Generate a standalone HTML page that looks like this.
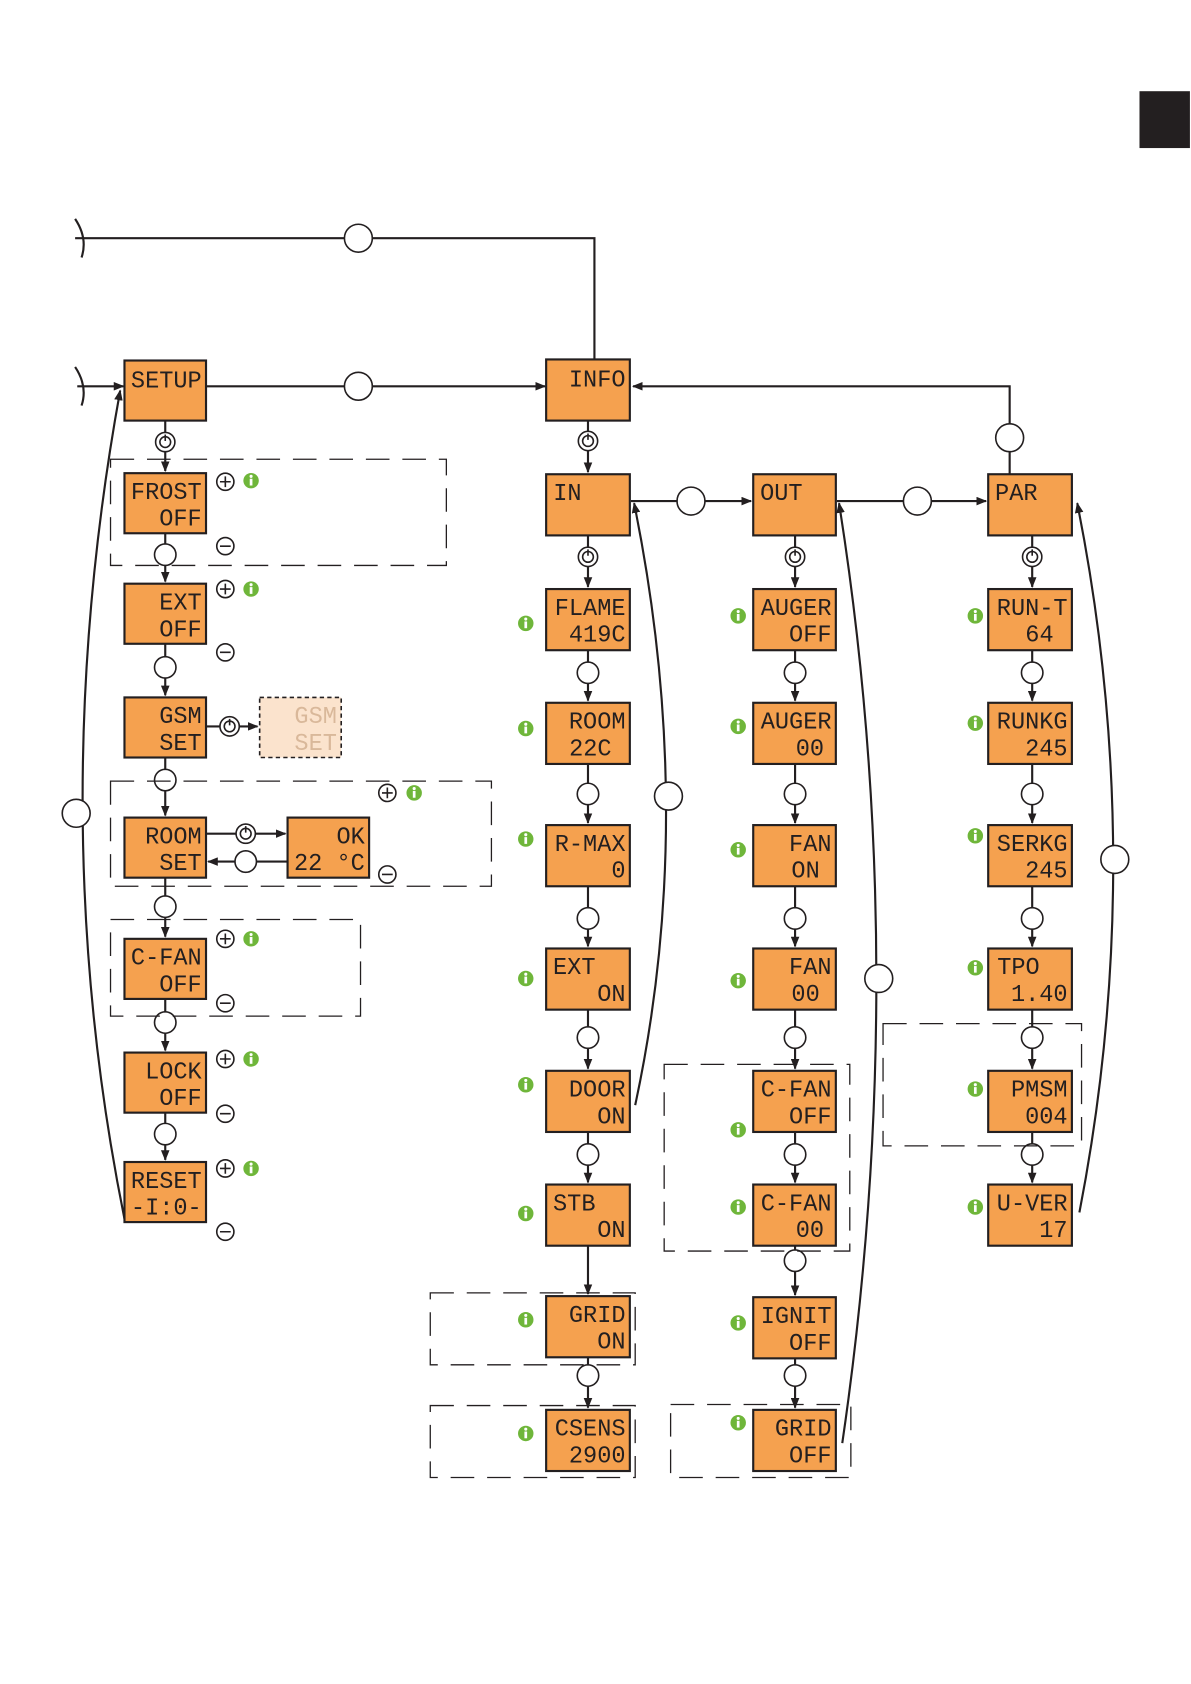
<!DOCTYPE html>
<html><head><meta charset="utf-8"><style>
html,body{margin:0;padding:0;background:#fff}
svg{display:block}
.b{fill:#f5a14f;stroke:#231f20;stroke-width:2}
.t{font-family:"Liberation Mono",monospace;font-size:22px;fill:#231f20;text-anchor:end}
.l{stroke:#231f20;stroke-width:2;fill:none}
.c{fill:#fff;stroke:#231f20;stroke-width:1.5}
.d{fill:none;stroke:#231f20;stroke-width:1.2;stroke-dasharray:22 12}
.i{fill:#6fb63a}
.it{font-family:"Liberation Sans",sans-serif;font-size:11px;font-weight:bold;fill:#fff;text-anchor:middle}
.p{fill:#fff;stroke:#231f20;stroke-width:1.5}
</style></head><body>
<svg width="1191" height="1684" viewBox="0 0 1110 1569.5" xmlns="http://www.w3.org/2000/svg">
<defs><marker id="a" markerWidth="10" markerHeight="8" refX="9" refY="4" orient="auto" markerUnits="userSpaceOnUse"><path d="M0,0L10,4L0,8z" fill="#231f20"/></marker>
<symbol id="pw" viewBox="0 0 20 20"><circle cx="10" cy="10" r="9" fill="#fff" stroke="#231f20" stroke-width="1.5"/><circle cx="10" cy="10" r="5" fill="none" stroke="#231f20" stroke-width="1.5"/><line x1="10" y1="3" x2="10" y2="9" stroke="#231f20" stroke-width="1.5"/></symbol>
<symbol id="pl" viewBox="0 0 20 20"><circle cx="10" cy="10" r="8" fill="#fff" stroke="#231f20" stroke-width="1.5"/><path d="M5,10H15M10,5V15" stroke="#231f20" stroke-width="1.5"/></symbol>
<symbol id="mi" viewBox="0 0 20 20"><circle cx="10" cy="10" r="8" fill="#fff" stroke="#231f20" stroke-width="1.5"/><path d="M5,10H15" stroke="#231f20" stroke-width="1.5"/></symbol>
<symbol id="in" viewBox="0 0 20 20"><circle cx="10" cy="10" r="8" fill="#6fb63a"/><rect x="8.6" y="8" width="2.8" height="7" fill="#fff"/><circle cx="10" cy="5.5" r="1.6" fill="#fff"/></symbol>
</defs>
<rect x="1062" y="85" width="47" height="53" fill="#231f20"/>

<!-- main lines -->
<path class="l" d="M70,222H554V335"/>
<path class="l" d="M70,204Q82,222 76,240" />
<path class="l" d="M70,342Q82,360 76,378" />
<path class="l" d="M72,360H115" marker-end="url(#a)"/>
<path class="l" d="M192,360H508" marker-end="url(#a)"/>
<path class="l" d="M941,442V360H590" marker-end="url(#a)"/>
<path class="l" d="M588,467H700" marker-end="url(#a)"/>
<path class="l" d="M780,467H919" marker-end="url(#a)"/>
<circle class="c" cx="334" cy="222" r="13"/><circle class="c" cx="334" cy="360" r="13"/>
<circle class="c" cx="941" cy="408" r="13"/><circle class="c" cx="644" cy="467" r="13"/><circle class="c" cx="855" cy="467" r="13"/>

<!-- return curves -->
<path class="l" d="M116,1136Q40,760 112,364" marker-end="url(#a)"/>
<circle class="c" cx="71" cy="758" r="13"/>
<path class="l" d="M592,1030Q650,760 591,469" marker-end="url(#a)"/>
<circle class="c" cx="623" cy="742" r="13"/>
<path class="l" d="M785,1345Q850,900 782,469" marker-end="url(#a)"/>
<circle class="c" cx="819" cy="912" r="13"/>
<path class="l" d="M1006,1130Q1070,800 1004,469" marker-end="url(#a)"/>
<circle class="c" cx="1039" cy="801" r="13"/>

<!-- vertical connectors -->
<g class="l">
<path d="M154,392V439" marker-end="url(#a)"/><path d="M154,497V542" marker-end="url(#a)"/><path d="M154,600V648" marker-end="url(#a)"/>
<path d="M154,706V760" marker-end="url(#a)"/><path d="M154,818V873" marker-end="url(#a)"/><path d="M154,931V979" marker-end="url(#a)"/><path d="M154,1037V1081" marker-end="url(#a)"/>
<path d="M548,392V440" marker-end="url(#a)"/>
<path d="M548,499V547" marker-end="url(#a)"/><path d="M548,606V653" marker-end="url(#a)"/><path d="M548,712V767" marker-end="url(#a)"/><path d="M548,826V882" marker-end="url(#a)"/><path d="M548,941V996" marker-end="url(#a)"/><path d="M548,1055V1102" marker-end="url(#a)"/><path d="M548,1161V1206" marker-end="url(#a)"/><path d="M548,1265V1312" marker-end="url(#a)"/>
<path d="M741,499V547" marker-end="url(#a)"/><path d="M741,606V653" marker-end="url(#a)"/><path d="M741,712V767" marker-end="url(#a)"/><path d="M741,826V882" marker-end="url(#a)"/><path d="M741,941V996" marker-end="url(#a)"/><path d="M741,1055V1102" marker-end="url(#a)"/><path d="M741,1161V1207" marker-end="url(#a)"/><path d="M741,1266V1312" marker-end="url(#a)"/>
<path d="M962,499V547" marker-end="url(#a)"/><path d="M962,606V653" marker-end="url(#a)"/><path d="M962,712V767" marker-end="url(#a)"/><path d="M962,826V882" marker-end="url(#a)"/><path d="M962,941V996" marker-end="url(#a)"/><path d="M962,1055V1102" marker-end="url(#a)"/>
<path d="M192,677H240" marker-end="url(#a)"/>
<path d="M192,777H266" marker-end="url(#a)"/><path d="M268,803H194" marker-end="url(#a)"/>
</g>
<g class="c">
<circle cx="154" cy="517" r="10"/><circle cx="154" cy="622" r="10"/><circle cx="154" cy="727" r="10"/><circle cx="154" cy="845" r="10"/><circle cx="154" cy="953" r="10"/><circle cx="154" cy="1057" r="10"/>
<circle cx="548" cy="627" r="10"/><circle cx="548" cy="740" r="10"/><circle cx="548" cy="856" r="10"/><circle cx="548" cy="967" r="10"/><circle cx="548" cy="1076" r="10"/><circle cx="548" cy="1282" r="10"/>
<circle cx="741" cy="627" r="10"/><circle cx="741" cy="740" r="10"/><circle cx="741" cy="856" r="10"/><circle cx="741" cy="967" r="10"/><circle cx="741" cy="1076" r="10"/><circle cx="741" cy="1175" r="10"/><circle cx="741" cy="1282" r="10"/>
<circle cx="962" cy="627" r="10"/><circle cx="962" cy="740" r="10"/><circle cx="962" cy="856" r="10"/><circle cx="962" cy="967" r="10"/><circle cx="962" cy="1076" r="10"/>
<circle cx="229" cy="803" r="10"/>
</g>
<use href="#pw" x="144" y="402" width="20" height="20"/><use href="#pw" x="538" y="401" width="20" height="20"/>
<use href="#pw" x="538" y="509" width="20" height="20"/><use href="#pw" x="731" y="509" width="20" height="20"/><use href="#pw" x="952" y="509" width="20" height="20"/>
<use href="#pw" x="204" y="667" width="20" height="20"/><use href="#pw" x="219" y="767" width="20" height="20"/>

<!-- dashed groups -->
<g class="d">
<rect x="103" y="428" width="313" height="99"/><rect x="103" y="728" width="355" height="98"/><rect x="103" y="857" width="233" height="90"/>
<rect x="401" y="1205" width="191" height="67"/><rect x="401" y="1310" width="191" height="67"/>
<rect x="619" y="992" width="173" height="174"/><rect x="625" y="1309" width="168" height="68"/><rect x="823" y="954" width="185" height="114"/>
</g>

<!-- boxes -->
<g>
<rect class="b" x="116" y="336" width="76" height="56"/><text class="t" x="188" y="361">SETUP</text>
<rect class="b" x="116" y="441" width="76" height="56"/><text class="t" x="188" y="465">FROST</text><text class="t" x="188" y="490">OFF</text>
<rect class="b" x="116" y="544" width="76" height="56"/><text class="t" x="188" y="568">EXT</text><text class="t" x="188" y="593">OFF</text>
<rect class="b" x="116" y="650" width="76" height="56"/><text class="t" x="188" y="674">GSM</text><text class="t" x="188" y="699">SET</text>
<rect x="242" y="650" width="76" height="56" fill="#fbe3cd" stroke="#231f20" stroke-width="1.5" stroke-dasharray="4 3"/><text class="t" x="314" y="674" style="fill:#d9b89a">GSM</text><text class="t" x="314" y="699" style="fill:#d9b89a">SET</text>
<rect class="b" x="116" y="762" width="76" height="56"/><text class="t" x="188" y="786">ROOM</text><text class="t" x="188" y="811">SET</text>
<rect class="b" x="268" y="762" width="76" height="56"/><text class="t" x="340" y="786">OK</text><text class="t" x="340" y="811">22 °C</text>
<rect class="b" x="116" y="875" width="76" height="56"/><text class="t" x="188" y="899">C-FAN</text><text class="t" x="188" y="924">OFF</text>
<rect class="b" x="116" y="981" width="76" height="56"/><text class="t" x="188" y="1005">LOCK</text><text class="t" x="188" y="1030">OFF</text>
<rect class="b" x="116" y="1083" width="76" height="56"/><text class="t" x="188" y="1107">RESET</text><text class="t" x="188" y="1132">-I:0-</text>

<rect class="b" x="509" y="335" width="78" height="57"/><text class="t" x="583" y="360">INFO</text>
<rect class="b" x="509" y="442" width="78" height="57"/><text class="t" x="542" y="466">IN</text>
<rect class="b" x="509" y="549" width="78" height="57"/><text class="t" x="583" y="573">FLAME</text><text class="t" x="583" y="598">419C</text>
<rect class="b" x="509" y="655" width="78" height="57"/><text class="t" x="583" y="679">ROOM</text><text class="t" x="570" y="704">22C</text>
<rect class="b" x="509" y="769" width="78" height="57"/><text class="t" x="583" y="793">R-MAX</text><text class="t" x="583" y="818">0</text>
<rect class="b" x="509" y="884" width="78" height="57"/><text class="t" x="555" y="908">EXT</text><text class="t" x="583" y="933">ON</text>
<rect class="b" x="509" y="998" width="78" height="57"/><text class="t" x="583" y="1022">DOOR</text><text class="t" x="583" y="1047">ON</text>
<rect class="b" x="509" y="1104" width="78" height="57"/><text class="t" x="555" y="1128">STB</text><text class="t" x="583" y="1153">ON</text>
<rect class="b" x="509" y="1208" width="78" height="57"/><text class="t" x="583" y="1232">GRID</text><text class="t" x="583" y="1257">ON</text>
<rect class="b" x="509" y="1314" width="78" height="57"/><text class="t" x="583" y="1338">CSENS</text><text class="t" x="583" y="1363">2900</text>

<rect class="b" x="702" y="442" width="77" height="57"/><text class="t" x="748" y="466">OUT</text>
<rect class="b" x="702" y="549" width="77" height="57"/><text class="t" x="775" y="573">AUGER</text><text class="t" x="775" y="598">OFF</text>
<rect class="b" x="702" y="655" width="77" height="57"/><text class="t" x="775" y="679">AUGER</text><text class="t" x="768" y="704">00</text>
<rect class="b" x="702" y="769" width="77" height="57"/><text class="t" x="775" y="793">FAN</text><text class="t" x="764" y="818">ON</text>
<rect class="b" x="702" y="884" width="77" height="57"/><text class="t" x="775" y="908">FAN</text><text class="t" x="764" y="933">00</text>
<rect class="b" x="702" y="998" width="77" height="57"/><text class="t" x="775" y="1022">C-FAN</text><text class="t" x="775" y="1047">OFF</text>
<rect class="b" x="702" y="1104" width="77" height="57"/><text class="t" x="775" y="1128">C-FAN</text><text class="t" x="768" y="1153">00</text>
<rect class="b" x="702" y="1209" width="77" height="57"/><text class="t" x="775" y="1233">IGNIT</text><text class="t" x="775" y="1258">OFF</text>
<rect class="b" x="702" y="1314" width="77" height="57"/><text class="t" x="775" y="1338">GRID</text><text class="t" x="775" y="1363">OFF</text>

<rect class="b" x="921" y="442" width="78" height="57"/><text class="t" x="967" y="466">PAR</text>
<rect class="b" x="921" y="549" width="78" height="57"/><text class="t" x="995" y="573">RUN-T</text><text class="t" x="982" y="598">64</text>
<rect class="b" x="921" y="655" width="78" height="57"/><text class="t" x="995" y="679">RUNKG</text><text class="t" x="995" y="704">245</text>
<rect class="b" x="921" y="769" width="78" height="57"/><text class="t" x="995" y="793">SERKG</text><text class="t" x="995" y="818">245</text>
<rect class="b" x="921" y="884" width="78" height="57"/><text class="t" x="969" y="908">TPO</text><text class="t" x="995" y="933">1.40</text>
<rect class="b" x="921" y="998" width="78" height="57"/><text class="t" x="995" y="1022">PMSM</text><text class="t" x="995" y="1047">004</text>
<rect class="b" x="921" y="1104" width="78" height="57"/><text class="t" x="995" y="1128">U-VER</text><text class="t" x="995" y="1153">17</text>
</g>

<!-- plus/minus/info -->
<g>
<use href="#pl" x="200" y="439" width="20" height="20"/><use href="#in" x="225" y="439" width="18" height="18"/><use href="#mi" x="200" y="499" width="20" height="20"/>
<use href="#pl" x="200" y="539" width="20" height="20"/><use href="#in" x="225" y="540" width="18" height="18"/><use href="#mi" x="200" y="598" width="20" height="20"/>
<use href="#pl" x="351" y="729" width="20" height="20"/><use href="#in" x="377" y="730" width="18" height="18"/><use href="#mi" x="351" y="805" width="20" height="20"/>
<use href="#pl" x="200" y="865" width="20" height="20"/><use href="#in" x="225" y="866" width="18" height="18"/><use href="#mi" x="200" y="925" width="20" height="20"/>
<use href="#pl" x="200" y="977" width="20" height="20"/><use href="#in" x="225" y="978" width="18" height="18"/><use href="#mi" x="200" y="1028" width="20" height="20"/>
<use href="#pl" x="200" y="1079" width="20" height="20"/><use href="#in" x="225" y="1080" width="18" height="18"/><use href="#mi" x="200" y="1138" width="20" height="20"/>
<use href="#in" x="481" y="572" width="18" height="18"/><use href="#in" x="481" y="670" width="18" height="18"/><use href="#in" x="481" y="773" width="18" height="18"/><use href="#in" x="481" y="903" width="18" height="18"/><use href="#in" x="481" y="1002" width="18" height="18"/><use href="#in" x="481" y="1122" width="18" height="18"/><use href="#in" x="481" y="1221" width="18" height="18"/><use href="#in" x="481" y="1327" width="18" height="18"/>
<use href="#in" x="679" y="565" width="18" height="18"/><use href="#in" x="679" y="668" width="18" height="18"/><use href="#in" x="679" y="783" width="18" height="18"/><use href="#in" x="679" y="905" width="18" height="18"/><use href="#in" x="679" y="1044" width="18" height="18"/><use href="#in" x="679" y="1116" width="18" height="18"/><use href="#in" x="679" y="1224" width="18" height="18"/><use href="#in" x="679" y="1317" width="18" height="18"/>
<use href="#in" x="900" y="565" width="18" height="18"/><use href="#in" x="900" y="665" width="18" height="18"/><use href="#in" x="900" y="770" width="18" height="18"/><use href="#in" x="900" y="893" width="18" height="18"/><use href="#in" x="900" y="1006" width="18" height="18"/><use href="#in" x="900" y="1116" width="18" height="18"/>
</g>
</svg>
</body></html>
